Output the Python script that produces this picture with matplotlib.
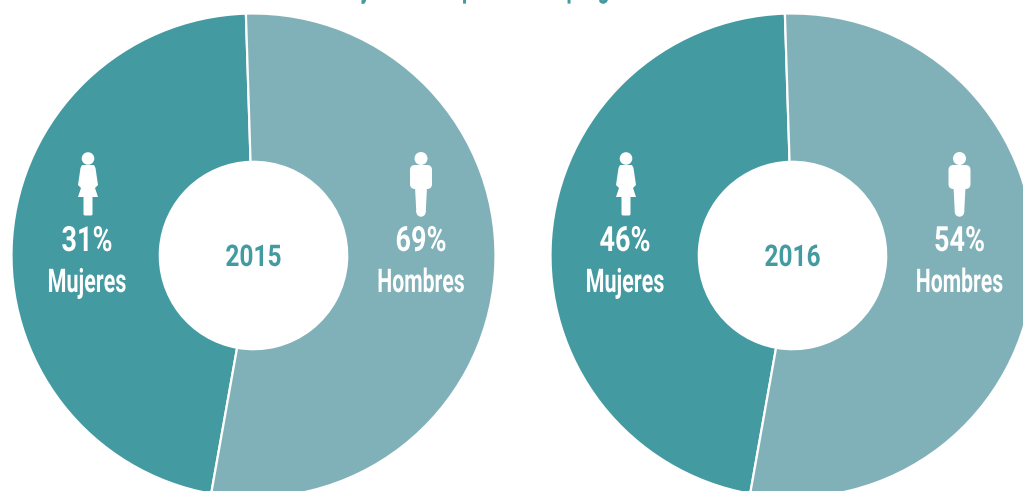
import matplotlib
matplotlib.use('Agg')
import matplotlib.pyplot as plt
from matplotlib.patches import Circle, Polygon, FancyBboxPatch
from matplotlib.patheffects import AbstractPathEffect
from matplotlib.transforms import Affine2D

# Datos
anios = ['2015', '2016']
# tamaño real de los sectores en el dibujo (no coincide con las etiquetas)
sectores_mujeres = [46.7, 46.7]
sectores_hombres = [53.3, 53.3]
etiquetas_mujeres = ['31%', '46%']
etiquetas_hombres = ['69%', '54%']
categorias = ['Mujeres', 'Hombres']
titulo = 'Alumnas y alumnos por año en programas'

OSCURO = '#439aa1'
CLARO = '#81b1b8'
H = 491


# No hay fuente condensada instalada: se estrecha el texto al dibujarlo
class Condensar(AbstractPathEffect):
    def __init__(self, sx, x0, dx=0):
        super().__init__()
        self.sx = sx
        self.x0 = x0
        self.dx = dx

    def draw_path(self, renderer, gc, tpath, affine, rgbFace=None):
        t = affine + Affine2D().translate(-self.x0, 0).scale(self.sx, 1).translate(self.x0 + self.dx, 0)
        renderer.draw_path(gc, tpath, t, rgbFace)


def etiqueta(ax, x, base, s, size, sx, color='white', dx=0, ha='center'):
    t = ax.text(x, H - base, s, color=color, fontsize=size, fontweight='bold', family='Roboto',
                ha=ha, va='baseline', zorder=6)
    t.set_path_effects([Condensar(sx, x, dx)])


def pix(puntos):
    return [(x, H - y) for x, y in puntos]


def mujer(ax, x):
    ax.add_patch(Circle((x, H - 158.5), 6.3, fc='white', ec='none', zorder=5))
    ax.add_patch(Polygon(pix([(x - 6, 165), (x + 6, 165), (x + 7.5, 168), (x + 10, 185), (x + 7, 188), (x + 10, 197),
                              (x - 10, 197), (x - 7, 188), (x - 10, 185), (x - 7.5, 168)]),
                         fc='white', ec='none', zorder=5))
    ax.add_patch(FancyBboxPatch((x - 3, H - 214), 6, 18, boxstyle='round,pad=1.5',
                                fc='white', ec='none', zorder=5))


def hombre(ax, x):
    ax.add_patch(Circle((x, H - 158.5), 6.5, fc='white', ec='none', zorder=5))
    ax.add_patch(FancyBboxPatch((x - 6, H - 184), 12, 14, boxstyle='round,pad=5',
                                fc='white', ec='none', zorder=5))
    ax.add_patch(Polygon(pix([(x - 6, 187), (x + 6, 187), (x + 4.7, 212), (x - 4.7, 212)]),
                         fc='white', ec='none', zorder=5))
    ax.add_patch(Circle((x, H - 212), 4.7, fc='white', ec='none', zorder=5))


fig = plt.figure(figsize=(10.23, 4.91), dpi=100)
ax = fig.add_axes([0, 0, 1, 1])

centros = [253.5, 792.5]
pos_m = [87, 625]
pos_h = [421, 959.5]

for i, cx in enumerate(centros):
    ax.pie([sectores_mujeres[i], sectores_hombres[i]], colors=[OSCURO, CLARO], center=(cx, H - 255.5),
           radius=242, startangle=91.8, counterclock=True,
           wedgeprops=dict(width=148.3, edgecolor='white', linewidth=1.6), frame=True)
    etiqueta(ax, cx, 266, anios[i], 21.5, 0.82, color=OSCURO)
    mujer(ax, pos_m[i] + 1)
    hombre(ax, pos_h[i])
    etiqueta(ax, pos_m[i], 251, etiquetas_mujeres[i], 25, 0.78)
    etiqueta(ax, pos_m[i], 292, categorias[0], 23.5, 0.66)
    etiqueta(ax, pos_h[i], 251, etiquetas_hombres[i], 25, 0.78)
    # el ancho sin estrechar no cabe en el borde derecho
    etiqueta(ax, pos_h[i] - i * 6, 292, categorias[1], 23.5, 0.65, dx=i * 6)

# título recortado por el borde superior: solo asoman los trazos bajos
etiqueta(ax, 272, -3, titulo, 23.5, 0.64, color=OSCURO, ha='left')

ax.set_xlim(0, 1023)
ax.set_ylim(0, H)
ax.set_aspect('equal')
ax.axis('off')
fig.savefig('out.png', dpi=100)
